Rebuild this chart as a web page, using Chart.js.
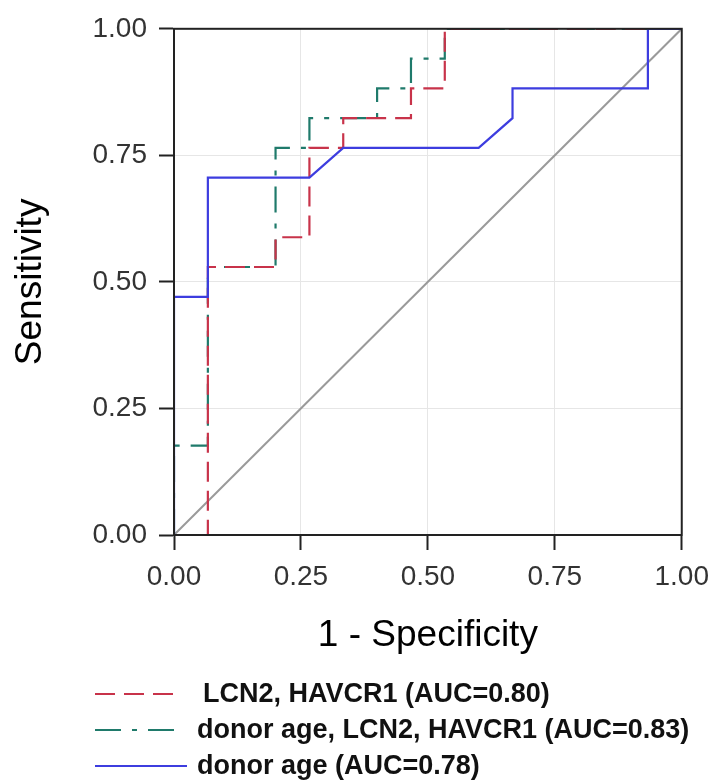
<!DOCTYPE html>
<html>
<head>
<meta charset="utf-8">
<script src="https://cdn.jsdelivr.net/npm/chart.js@4/dist/chart.umd.min.js"></script>
<style>
  html, body { margin: 0; padding: 0; background: #fff; }
  #wrap { width: 719px; height: 783px; position: relative; }
</style>
</head>
<body>
<div id="wrap"><canvas id="c" width="719" height="783"></canvas></div>
<script>
// ---- Data ----
const xTicks = [0, 0.25, 0.5, 0.75, 1];
const yTicks = [0, 0.25, 0.5, 0.75, 1];

const seriesNames = [
  'LCN2, HAVCR1 (AUC=0.80)',
  'donor age, LCN2, HAVCR1 (AUC=0.83)',
  'donor age (AUC=0.78)'
];

// LCN2, HAVCR1
const lcnFpr = [0, 0.0667, 0.0667, 0.2, 0.2, 0.2667, 0.2667, 0.3333, 0.3333, 0.4667, 0.4667, 0.5333, 0.5333, 1];
const lcnTpr = [0, 0, 0.5294, 0.5294, 0.5882, 0.5882, 0.7647, 0.7647, 0.8235, 0.8235, 0.8824, 0.8824, 1, 1];

// donor age, LCN2, HAVCR1
const comboFpr = [0, 0, 0.0667, 0.0667, 0.2, 0.2, 0.2667, 0.2667, 0.4, 0.4, 0.4667, 0.4667, 0.5333, 0.5333, 1];
const comboTpr = [0, 0.1765, 0.1765, 0.5294, 0.5294, 0.7647, 0.7647, 0.8235, 0.8235, 0.8824, 0.8824, 0.9412, 0.9412, 1, 1];

// donor age
const ageFpr = [0, 0, 0.0667, 0.0667, 0.2667, 0.3333, 0.6, 0.6667, 0.6667, 0.9333, 0.9333, 1];
const ageTpr = [0, 0.4706, 0.4706, 0.7059, 0.7059, 0.7647, 0.7647, 0.8235, 0.8824, 0.8824, 1, 1];

// reference diagonal
const diagX = [0, 1];
const diagY = [0, 1];

// ---- Styles ----
const colRed = '#c8334a';
const colTeal = '#1f7a6b';
const colBlue = '#3d3ddf';
const colDiag = '#9a9a9a';
const dashRed = [20, 9];
const dashTeal = [26, 11, 5, 11];
const lineClip = { left: 0, top: 0, right: 4, bottom: 4 };

const pts = (xs, ys) => xs.map((x, i) => ({ x: x, y: ys[i] }));

const boxAndLegend = {
  id: 'boxAndLegend',
  afterDatasetsDraw(chart) {
    const { ctx, chartArea: a } = chart;
    ctx.save();
    ctx.strokeStyle = '#222';
    ctx.lineWidth = 2;
    ctx.strokeRect(a.left, a.top, a.right - a.left, a.bottom - a.top);
    ctx.restore();
  },
  afterDraw(chart) {
    const ctx = chart.ctx;
    const rows = [
      { y: 694, color: colRed, dash: dashRed, x1: 95, x2: 178, tx: 203 },
      { y: 730, color: colTeal, dash: dashTeal, x1: 95, x2: 185, tx: 197 },
      { y: 766, color: colBlue, dash: [], x1: 95, x2: 187, tx: 197 }
    ];
    ctx.save();
    rows.forEach((r, i) => {
      ctx.beginPath();
      ctx.setLineDash(r.dash);
      ctx.strokeStyle = r.color;
      ctx.lineWidth = 2.2;
      ctx.moveTo(r.x1, r.y);
      ctx.lineTo(r.x2, r.y);
      ctx.stroke();
      ctx.setLineDash([]);
      ctx.fillStyle = '#111';
      ctx.font = 'bold 27px "Liberation Sans", Arial, sans-serif';
      ctx.textAlign = 'left';
      ctx.textBaseline = 'middle';
      ctx.fillText(seriesNames[i], r.tx, r.y + 1);
    });
    ctx.restore();
  }
};

new Chart(document.getElementById('c'), {
  type: 'line',
  data: {
    datasets: [
      {
        label: seriesNames[2], data: pts(ageFpr, ageTpr),
        borderColor: colBlue, borderWidth: 2.2, pointRadius: 0, tension: 0,
        fill: false, order: 1, clip: lineClip
      },
      {
        label: seriesNames[0], data: pts(lcnFpr, lcnTpr),
        borderColor: colRed, borderWidth: 2.2, borderDash: dashRed, pointRadius: 0, tension: 0,
        fill: false, order: 2, clip: lineClip
      },
      {
        label: seriesNames[1], data: pts(comboFpr, comboTpr),
        borderColor: colTeal, borderWidth: 2.2, borderDash: dashTeal, pointRadius: 0, tension: 0,
        fill: false, order: 3, clip: lineClip
      },
      {
        label: 'diagonal', data: pts(diagX, diagY),
        borderColor: colDiag, borderWidth: 2, pointRadius: 0, tension: 0,
        fill: false, order: 4
      }
    ]
  },
  options: {
    responsive: false,
    animation: false,
    events: [],
    layout: { padding: { left: 0, right: 34, top: 24, bottom: 123 } },
    plugins: { legend: { display: false }, tooltip: { enabled: false } },
    scales: {
      x: {
        type: 'linear', min: 0, max: 1,
        afterFit(s) { s.height = 125; },
        afterBuildTicks(s) { s.ticks = xTicks.map(v => ({ value: v })); },
        ticks: {
          color: '#333', padding: 10,
          font: { family: '"Liberation Sans", Arial, sans-serif', size: 28 },
          callback: v => Number(v).toFixed(2), maxRotation: 0
        },
        grid: { color: '#e6e6e6', lineWidth: 1, tickColor: '#222', tickWidth: 2, tickLength: 15 },
        border: { color: '#222', width: 2 },
        title: {
          display: true, text: '1 - Specificity', color: '#000',
          font: { family: '"Liberation Sans", Arial, sans-serif', size: 37 },
          padding: { top: 0, bottom: 2 }
        }
      },
      y: {
        type: 'linear', min: 0, max: 1,
        afterFit(s) { s.width = 174; },
        afterBuildTicks(s) { s.ticks = yTicks.map(v => ({ value: v })); },
        ticks: {
          color: '#333', padding: 12,
          font: { family: '"Liberation Sans", Arial, sans-serif', size: 28 },
          callback: v => Number(v).toFixed(2)
        },
        grid: { color: '#e6e6e6', lineWidth: 1, tickColor: '#222', tickWidth: 2, tickLength: 15 },
        border: { color: '#222', width: 2 },
        title: {
          display: true, text: 'Sensitivity', color: '#000',
          font: { family: '"Liberation Sans", Arial, sans-serif', size: 37 },
          padding: { top: 9, bottom: 0 }
        }
      }
    }
  },
  plugins: [boxAndLegend]
});
</script>
</body>
</html>
